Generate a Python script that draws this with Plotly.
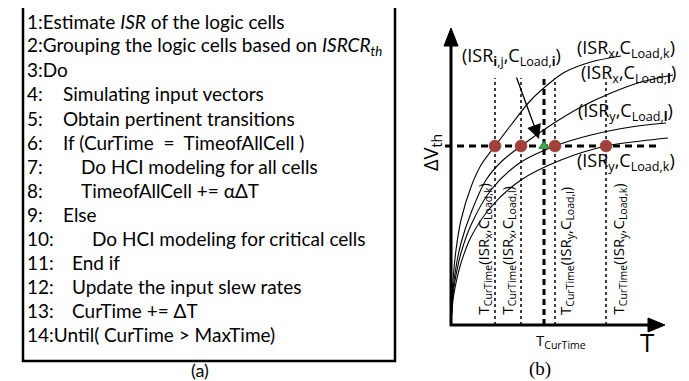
import plotly.graph_objects as go

W, H = 689, 381

# ---------------- panel (a): algorithm listing ----------------
algo_numbers = ["1:", "2:", "3:", "4:", "5:", "6:", "7:", "8:", "9:", "10:", "11:", "12:", "13:", "14:"]
algo_texts = [
    "Estimate <i>ISR</i> of the logic cells",
    "Grouping the logic cells based on <i>ISRCR<sub>th</sub></i>",
    "Do",
    "Simulating input vectors",
    "Obtain pertinent transitions",
    "If (CurTime  =  TimeofAllCell )",
    "Do HCI modeling for all cells",
    "TimeofAllCell += αΔT",
    "Else",
    "Do HCI modeling for critical cells",
    "End if",
    "Update the input slew rates",
    "CurTime += ΔT",
    "Until( CurTime > MaxTime)",
]
# layout: x position (px) where the body text starts; 0 = directly after number
indent_px = [0, 0, 0, 53, 53, 53, 71, 71, 53, 82, 62, 62, 62, 0]

# ---------------- panel (b): HCI degradation sketch ----------------
# T: time (units = px from origin), V: delta Vth (units = px above axis)
curve_names = ["xk", "xl", "yl", "yk"]
curve_T = [
    [0, 2, 5, 10, 20, 30, 44, 60, 80, 100, 114, 140, 170],
    [0, 2, 5, 10, 20, 35, 50, 70, 100, 130, 160, 190, 222],
    [0, 2, 5, 10, 20, 40, 70, 104, 140, 180, 215],
    [0, 2, 5, 10, 20, 40, 70, 110, 155, 190, 217],
]
curve_V = [
    [0, 45, 75, 105, 138, 160, 179, 200, 225, 243, 253, 263, 269],
    [0, 35, 58, 82, 112, 145, 163, 179, 200, 218, 232, 243, 250],
    [0, 30, 50, 72, 100, 135, 163, 179, 190, 198, 202],
    [0, 25, 42, 62, 88, 118, 145, 165, 179, 184, 187],
]
crossing_T = [44, 70, 104, 155]      # T_CurTime(ISR, CLoad) for each curve
dvth_level = 179                      # target delta Vth
t_current = 93                        # current simulation time T_CurTime
vline_top = 247

FONT_A = "Lato"
FONT_B = "Open Sans"

fig = go.Figure()

# vertical dotted lines at crossing times
for t in crossing_T:
    fig.add_trace(go.Scatter(x=[t, t], y=[0, vline_top], mode="lines",
                             line=dict(color="black", width=1.5, dash="dot"),
                             hoverinfo="skip", showlegend=False))
# thick dashed current-time line
fig.add_trace(go.Scatter(x=[t_current, t_current], y=[0, vline_top], mode="lines",
                         line=dict(color="black", width=3, dash="6px,4px"),
                         hoverinfo="skip", showlegend=False))
# horizontal dashed delta-Vth level
fig.add_trace(go.Scatter(x=[-6, 207], y=[dvth_level, dvth_level], mode="lines",
                         line=dict(color="black", width=3, dash="7px,5px"),
                         hoverinfo="skip", showlegend=False))
# degradation curves
for tt, vv in zip(curve_T, curve_V):
    fig.add_trace(go.Scatter(x=tt, y=vv, mode="lines",
                             line=dict(color="black", width=1.1, shape="spline", smoothing=1.0),
                             hoverinfo="skip", showlegend=False))
# red crossing dots
fig.add_trace(go.Scatter(x=crossing_T, y=[dvth_level] * len(crossing_T), mode="markers",
                         marker=dict(color="#A3403A", size=12, line=dict(color="#8a3530", width=0.5)),
                         hoverinfo="skip", showlegend=False))
# green interpolated point
fig.add_trace(go.Scatter(x=[t_current], y=[dvth_level], mode="markers",
                         marker=dict(symbol="triangle-up", color="#3DB04B", size=9,
                                     line=dict(color="#1e7a2c", width=1)),
                         hoverinfo="skip", showlegend=False))

shapes = []
# box around algorithm (paper coords)
shapes.append(dict(type="rect", xref="paper", yref="paper",
                   x0=15 / W, x1=387 / W, y0=1 - 353 / H, y1=1 + 3 / H,
                   line=dict(color="black", width=2.5)))
# axes of panel (b)
shapes.append(dict(type="line", xref="x", yref="y", x0=0, y0=-1, x1=0, y1=282,
                   line=dict(color="black", width=3)))
shapes.append(dict(type="path", xref="x", yref="y", path="M -7,279 L 0,297 L 7,279 Z",
                   fillcolor="black", line=dict(color="black", width=1)))
shapes.append(dict(type="line", xref="x", yref="y", x0=-1, y0=0, x1=200, y1=0,
                   line=dict(color="black", width=3)))
shapes.append(dict(type="path", xref="x", yref="y", path="M 197,7 L 214,0 L 197,-7 Z",
                   fillcolor="black", line=dict(color="black", width=1)))

ann = []
y0_line, dy_line = 14, 24
for i, (num, body) in enumerate(zip(algo_numbers, algo_texts)):
    py = y0_line + dy_line * i
    if indent_px[i] == 0:
        ann.append(dict(text=num + body, x=17 / W, y=1 - py / H, xref="paper", yref="paper",
                        xanchor="left", yanchor="middle", showarrow=False,
                        font=dict(family=FONT_A, size=19, color="black")))
    else:
        ann.append(dict(text=num, x=17 / W, y=1 - py / H, xref="paper", yref="paper",
                        xanchor="left", yanchor="middle", showarrow=False,
                        font=dict(family=FONT_A, size=19, color="black")))
        ann.append(dict(text=body, x=indent_px[i] / W, y=1 - py / H, xref="paper", yref="paper",
                        xanchor="left", yanchor="middle", showarrow=False,
                        font=dict(family=FONT_A, size=19, color="black")))
ann.append(dict(text="(a)", x=192 / W, y=1 - 362 / H, xref="paper", yref="paper",
                xanchor="center", yanchor="middle", showarrow=False,
                font=dict(family=FONT_A, size=18, color="black")))

lab = dict(family=FONT_B, size=18, color="black")
top_labels = [
    ("(ISR<sub>x</sub>,C<sub>Load,k</sub>)", 175, 277),
    ("(ISR<sub>x</sub>,C<sub>Load,<b>l</b></sub>)", 177, 252),
    ("(ISR<sub>y</sub>,C<sub>Load,<b>l</b></sub>)", 174, 214),
    ("(ISR<sub>y</sub>,C<sub>Load,k</sub>)", 175, 164),
    ("(ISR<sub><b>i</b>,j</sub>,C<sub>Load,<b>i</b></sub>)", 60, 269),
]
for txt, x, y in top_labels:
    ann.append(dict(text=txt, x=x, y=y, xref="x", yref="y", xanchor="center", yanchor="middle",
                    showarrow=False, font=lab))

rot_labels = [
    ("T<sub>CurTime</sub>(ISR<sub>x</sub>,C<sub>Load,k</sub>)", 32),
    ("T<sub>CurTime</sub>(ISR<sub>x</sub>,C<sub>Load,l</sub>)", 56),
    ("T<sub>CurTime</sub>(ISR<sub>y</sub>,C<sub>Load,l</sub>)", 115),
    ("T<sub>CurTime</sub>(ISR<sub>y</sub>,C<sub>Load,k</sub>)", 167),
]
for txt, x in rot_labels:
    ann.append(dict(text=txt, x=x, y=8, xref="x", yref="y", xanchor="center", yanchor="bottom",
                    textangle=-90, showarrow=False, font=dict(family=FONT_B, size=15, color="black")))

ann.append(dict(text="ΔV<sub>th</sub>", x=-20, y=172, xref="x", yref="y", textangle=-90,
                xanchor="center", yanchor="middle", showarrow=False,
                font=dict(family=FONT_B, size=20, color="black")))
ann.append(dict(text="T<sub>CurTime</sub>", x=110, y=-16, xref="x", yref="y",
                xanchor="center", yanchor="middle", showarrow=False,
                font=dict(family=FONT_B, size=15, color="black")))
ann.append(dict(text="T", x=196, y=-17, xref="x", yref="y",
                xanchor="center", yanchor="middle", showarrow=False,
                font=dict(family=FONT_B, size=26, color="black")))
ann.append(dict(text="(b)", x=89, y=-44, xref="x", yref="y",
                xanchor="center", yanchor="middle", showarrow=False,
                font=dict(family="Liberation Serif", size=19, color="black")))
# arrow from (ISR_i,j, CLoad,i) label to the green point
ann.append(dict(text="", x=88, y=186, ax=65, ay=249, xref="x", yref="y", axref="x", ayref="y",
                showarrow=True, arrowhead=2, arrowsize=2.2, arrowwidth=1.3, arrowcolor="black"))

fig.update_layout(
    width=W, height=H,
    margin=dict(l=0, r=0, t=0, b=0),
    paper_bgcolor="white", plot_bgcolor="white",
    xaxis=dict(range=[-443, W - 443], visible=False, fixedrange=True),
    yaxis=dict(range=[317 - H, 317], visible=False, fixedrange=True),
    shapes=shapes, annotations=ann, showlegend=False,
)

fig.write_html("out.html")
